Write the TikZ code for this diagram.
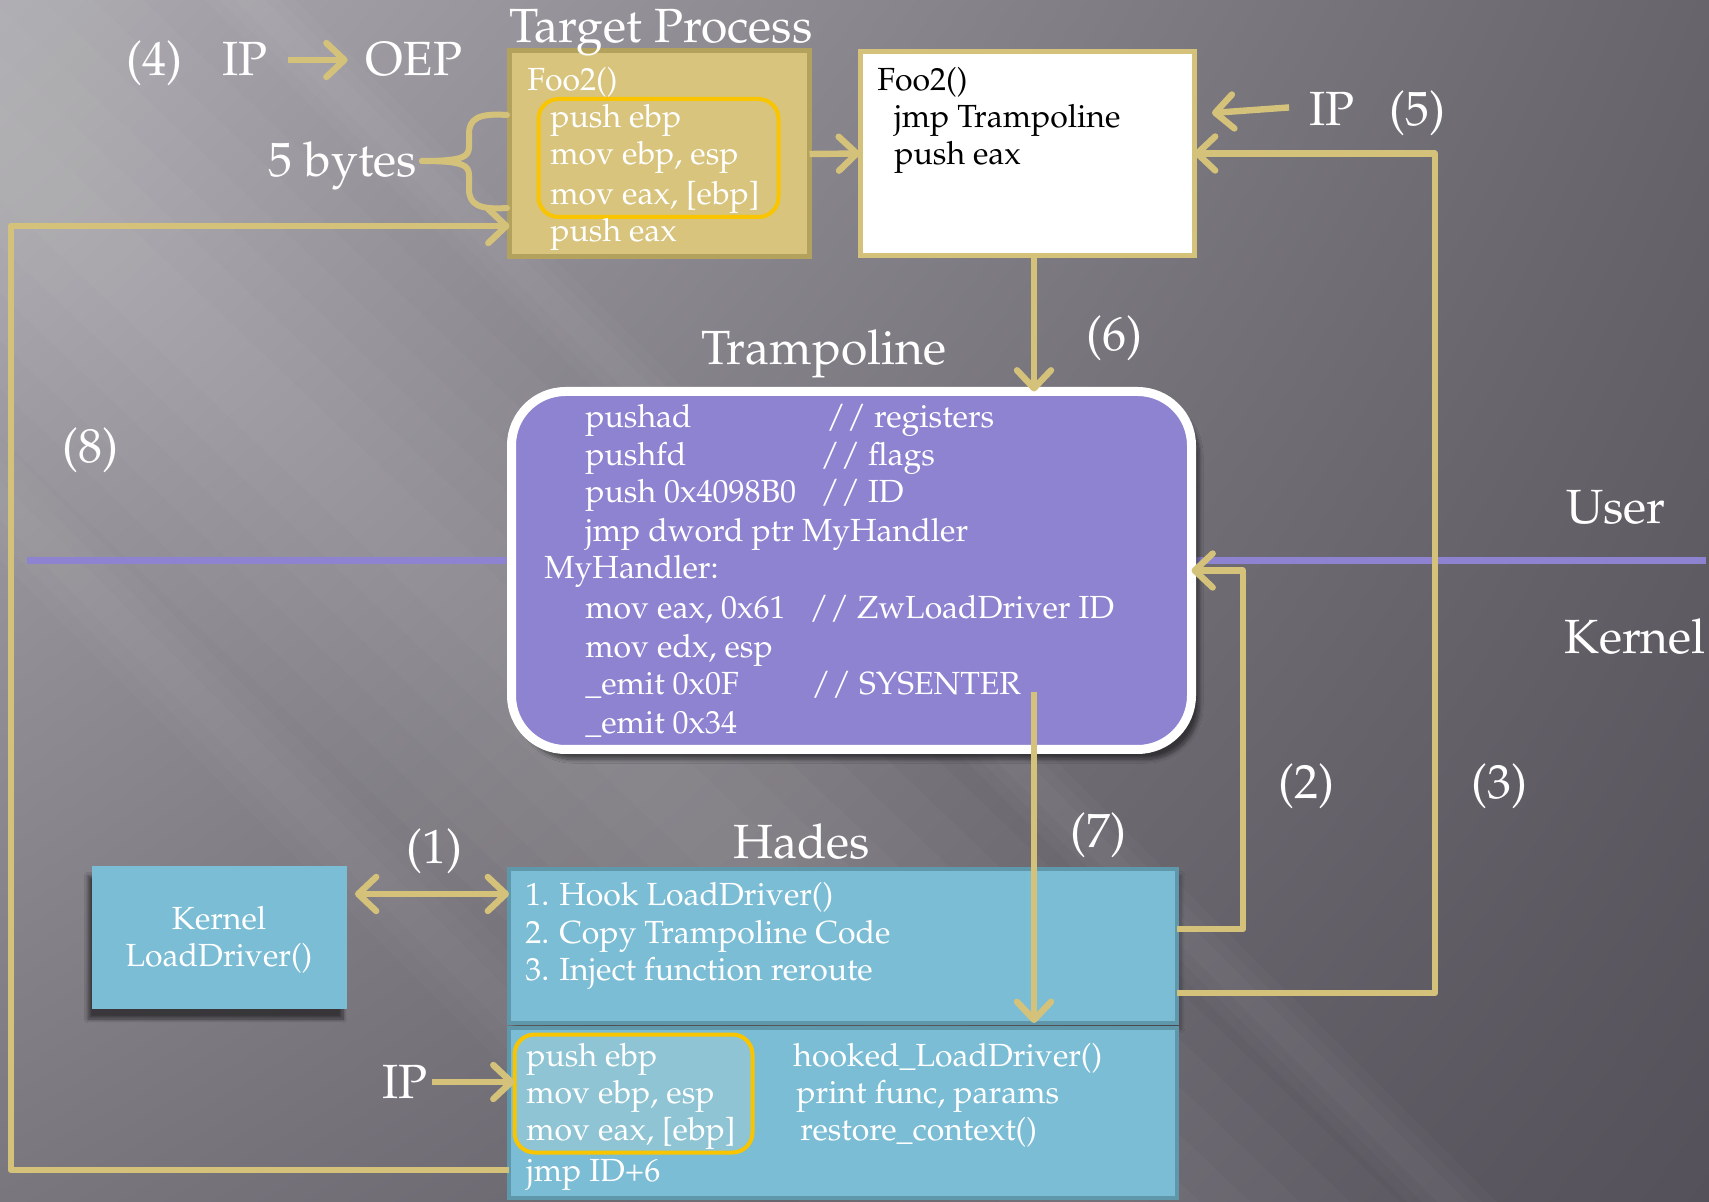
\documentclass[tikz,border=0pt]{standalone}
\usepackage[T1]{fontenc}
\usepackage{mathpazo}
\usetikzlibrary{arrows.meta,shadows.blur,calc,shadings}
\definecolor{gold}{HTML}{D5C27A}
\definecolor{goldfill}{HTML}{D8C47C}
\definecolor{goldedge}{HTML}{B3A25E}
\definecolor{hl}{HTML}{F8C500}
\definecolor{purp}{HTML}{8E83D1}
\definecolor{cyanbox}{HTML}{7BBDD5}
\definecolor{cyanedge}{HTML}{5E98AA}
\definecolor{hlfill}{HTML}{8EC4D3}
\definecolor{bgUL}{HTML}{ADABB1}
\definecolor{bgUR}{HTML}{67646B}
\definecolor{bgLL}{HTML}{7A767E}
\definecolor{bgLR}{HTML}{54515A}
\tikzset{
  arr/.style={draw=gold, line width=3.2pt, line join=round, -{Straight Barb[length=9pt,width=17pt,round]}},
  arrtwo/.style={draw=gold, line width=3.2pt, line join=round, {Straight Barb[length=9pt,width=17pt,round]}-{Straight Barb[length=9pt,width=17pt,round]}},
  code/.style={font=\fontsize{16}{19}\selectfont, text=white, anchor=west, inner sep=0pt, text height=10pt, text depth=1pt},
  blk/.style={code, text=black},
  lab/.style={font=\fontsize{24}{28}\selectfont, text=white, inner sep=0pt, text height=18pt, text depth=2pt},
  plainbox/.style={rectangle, inner sep=0pt, outer sep=0pt},
}
\begin{document}
\begin{tikzpicture}[x=0.5pt,y=-0.5pt]
\useasboundingbox (0,0) rectangle (1709,1202);
% background
\shade[upper left=bgUL, upper right=bgUR, lower left=bgLL, lower right=bgLR] (0,0) rectangle (1709,1202);
\foreach \d in {50,100,150,200,250,300}
  \fill[white, opacity=0.025] (-157-\d,0) -- (-157+\d,0) -- (1100+\d,1202) -- (1100-\d,1202) -- cycle;
\foreach \d in {15,30,45}
  \fill[white, opacity=0.025] (250-\d,0) -- (250+\d,0) -- (1452+\d,1202) -- (1452-\d,1202) -- cycle;
\foreach \d in {20,40,60}
  \fill[white, opacity=0.02] (-500-\d,0) -- (-500+\d,0) -- (700+\d,1202) -- (700-\d,1202) -- cycle;

% user / kernel line
\coordinate (ukL) at (27,561);
\coordinate (ukR) at (1706,561);
\draw[purp, line width=3.5pt] (ukL) -- (ukR);

% boxes
\node[plainbox, fill=goldfill, draw=goldedge, line width=2.5pt, minimum width=150pt, minimum height=103pt] (target) at (659.5,154) {};
\node[plainbox, draw=hl, line width=2pt, rounded corners=10pt, minimum width=120pt, minimum height=59pt] (hlone) at (658.5,158) {};
\node[plainbox, fill=white, draw=gold, line width=2.5pt, minimum width=167pt, minimum height=102pt] (foo) at (1027,153.5) {};
\node[plainbox, fill=purp, draw=white, line width=4.5pt, rounded corners=27pt, minimum width=340pt, minimum height=179pt,
      blur shadow={shadow xshift=4pt, shadow yshift=-5pt, shadow blur steps=10, shadow opacity=50}] (tramp) at (851.5,570.5) {};
\node[plainbox, fill=cyanbox, draw=cyanedge, line width=1.8pt, minimum width=334pt, minimum height=77pt,
      blur shadow={shadow xshift=2pt, shadow yshift=-3pt, shadow blur steps=8, shadow opacity=30}] (hadesA) at (843,946) {};
\node[plainbox, fill=cyanbox, draw=cyanedge, line width=1.8pt, minimum width=334pt, minimum height=85pt] (hadesB) at (843,1113) {};
\node[plainbox, fill=hlfill, draw=hl, line width=2pt, rounded corners=10pt, minimum width=119pt, minimum height=59pt] (hltwo) at (633.5,1093.5) {};
\node[plainbox, fill=cyanbox, minimum width=127.5pt, minimum height=71.5pt,
      blur shadow={shadow xshift=-2pt, shadow yshift=-5pt, shadow blur steps=10, shadow opacity=55}] (kbox) at (219.5,937.5) {};

% target process text
\node[code] (t0) at (527,82) {Foo2()};
\node[code] (t1) at (550,119) {push ebp};
\node[code] (t2) at (550,156) {mov ebp, esp};
\node[code] (t3) at (550,196) {mov eax, [ebp]};
\node[code] (t4) at (550,233) {push eax};

% white foo2 text
\node[blk] (f0) at (877,82) {Foo2()};
\node[blk] (f1) at (894,119) {jmp Trampoline};
\node[blk] (f2) at (894,156) {push eax};

% trampoline text
\node[code] (c1) at (585,419) {pushad};
\node[code] (c1b) at (826,419) {/\kern0.5pt/ registers};
\node[code] (c2) at (585,457) {pushfd};
\node[code] (c2b) at (820,457) {/\kern0.5pt/ flags};
\node[code] (c3) at (585,494) {push 0x4098B0};
\node[code] (c3b) at (820,494) {/\kern0.5pt/ ID};
\node[code] (c4) at (585,533) {jmp dword ptr MyHandler};
\node[code] (c5) at (544,570) {MyHandler:};
\node[code] (c6) at (585,610) {mov eax, 0x61};
\node[code] (c6b) at (809,610) {/\kern0.5pt/ ZwLoadDriver ID};
\node[code] (c7) at (585,649) {mov edx, esp};
\node[code] (c8) at (585,686) {\_emit 0x0F};
\node[code] (c8b) at (811,686) {/\kern0.5pt/ SYSENTER};
\node[code] (c9) at (585,725) {\_emit 0x34};

% hades text
\node[code] (h1) at (525,897) {1. Hook LoadDriver()};
\node[code] (h2) at (525,934) {2. Copy Trampoline Code};
\node[code] (h3) at (525,971) {3. Inject function reroute};
\node[code] (g1) at (526,1057) {push ebp};
\node[code] (g2) at (526,1094) {mov ebp, esp};
\node[code] (g3) at (526,1131) {mov eax, [ebp]};
\node[code] (g4) at (526,1172) {jmp ID+6};
\node[code] (r1) at (793,1057) {hooked\_LoadDriver()};
\node[code] (r2) at (796,1094) {print func, params};
\node[code] (r3) at (800,1131) {restore\_context()};

% kernel box text
\node[code, anchor=center] (k1) at (219,921) {Kernel};
\node[code, anchor=center] (k2) at (219,958) {LoadDriver()};

% labels
\node[lab] (lfour) at (154,60) {(4)};
\node[lab] (ipfour) at (245,60) {IP};
\node[lab] (oep) at (414,60) {OEP};
\node[lab] (ttl) at (661,27) {Target Process};
\node[lab] (bytes) at (343,161) {5 bytes};
\node[lab] (ipfive) at (1332,110) {IP};
\node[lab] (lfive) at (1417,110) {(5)};
\node[lab] (trttl) at (824,349) {Trampoline};
\node[lab] (lsix) at (1114,335) {(6)};
\node[lab] (leight) at (90,447) {(8)};
\node[lab] (user) at (1616,508) {User};
\node[lab] (kern) at (1635,638) {Kernel};
\node[lab] (ltwo) at (1306,783) {(2)};
\node[lab] (lthree) at (1499,783) {(3)};
\node[lab] (lseven) at (1098,832) {(7)};
\node[lab] (hdttl) at (802,843) {Hades};
\node[lab] (lone) at (434,848) {(1)};
\node[lab] (iph) at (405,1082) {IP};

% brace
\draw[gold, line width=3pt, line cap=round, line join=round]
  (507,115) .. controls (478,113) and (469,119) .. (469,134) -- (469,147)
  .. controls (469,157) and (462,161) .. (422,161);
\draw[gold, line width=3pt, line cap=round, line join=round]
  (507,208) .. controls (478,210) and (469,204) .. (469,189) -- (469,175)
  .. controls (469,165) and (462,161) .. (422,161);

% connectors
\draw[arr, shorten <=10pt, shorten >=9pt] (ipfour.east) -- (oep.west);
\draw[arr] (target.east) -- (foo.west);
\coordinate (ipfivetip) at (1212,113);
\draw[arr, shorten <=10pt] ([yshift=2pt]ipfive.west) -- (ipfivetip);
\coordinate (ythree) at (0,993);
\coordinate (xthree) at (1435,0);
\draw[arr] (hadesA.east |- ythree) -- (xthree |- ythree) -- (xthree |- foo.east) -- (foo.east);
\coordinate (ytwo) at (0,929);
\coordinate (xtwo) at (1243,0);
\draw[arr] (hadesA.east |- ytwo) -- (xtwo |- ytwo) -- (xtwo |- tramp.east) -- (tramp.east);
\coordinate (xsix) at (1034,0);
\draw[arr] (foo.south -| xsix) -- (tramp.north -| xsix);
\coordinate (sseven) at (1034,692);
\draw[arr] (sseven) -- (hadesA.south -| sseven);
\coordinate (yeight) at (0,1170);
\coordinate (yeightb) at (0,226);
\coordinate (xeight) at (11,0);
\draw[arr] (hadesB.west |- yeight) -- (xeight |- yeight) -- (xeight |- yeightb) -- (target.west |- yeightb);
\coordinate (yone) at (0,894);
\draw[arrtwo, shorten <=4pt] (kbox.east |- yone) -- (hadesA.west |- yone);
\draw[arr, shorten <=2pt] (iph.east) -- (hltwo.west |- iph.east);
\end{tikzpicture}
\end{document}
